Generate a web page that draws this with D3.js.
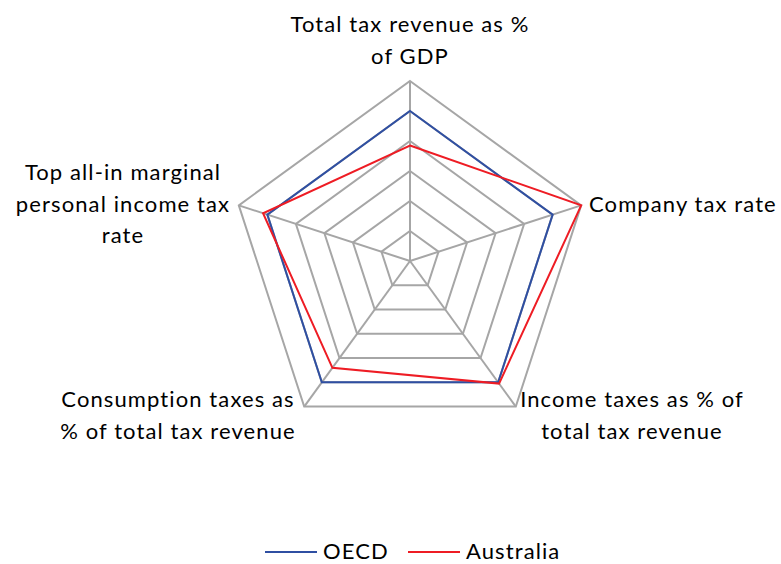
<!DOCTYPE html>
<html>
<meta charset="utf-8">
<script src="https://d3js.org/d3.v7.min.js"></script>
<style>
  body { margin: 0; background: #fff; }
  text { font-family: Lato, "Open Sans", sans-serif; fill: #000; }
</style>
<body>
<div id="vis"></div>
<script>
  // axis categories (line breaks as in the original chart)
  const categories = [
    ["Total tax revenue as %", "of GDP"],
    ["Company tax rate"],
    ["Income taxes as % of", "total tax revenue"],
    ["Consumption taxes as", "% of total tax revenue"],
    ["Top all-in marginal", "personal income tax", "rate"]
  ];
  const seriesNames = ["OECD", "Australia"];
  const oecdValues = [100, 100, 100, 100, 100];
  const australiaValues = [77, 120, 101, 88, 103];
  const ringTicks = [20, 40, 60, 80, 100, 120];
  const colors = ["#2F4FA2", "#EE1C24"];

  const width = 781, height = 564;
  const cx = 410, cy = 261, R = 180;

  const svg = d3.select("#vis")
    .append("svg")
      .attr("width", width)
      .attr("height", height);

  const r = d3.scaleLinear().domain([0, 120]).range([0, R]);
  const angle = d3.scalePoint()
    .domain(d3.range(categories.length + 1))
    .range([0, 2 * Math.PI]);

  const g = svg.append("g").attr("transform", `translate(${cx},${cy})`);

  const radial = d3.lineRadial()
    .angle((d, i) => angle(i))
    .radius(d => r(d))
    .curve(d3.curveLinearClosed);

  // grid rings
  g.selectAll(".ring")
    .data(ringTicks)
    .join("path")
      .attr("class", "ring")
      .attr("d", t => radial(categories.map(() => t)))
      .attr("fill", "none")
      .attr("stroke", "#A6A6A6")
      .attr("stroke-width", 2);

  // spokes
  g.selectAll(".spoke")
    .data(categories)
    .join("line")
      .attr("class", "spoke")
      .attr("x1", 0).attr("y1", 0)
      .attr("x2", (d, i) => r(120) * Math.sin(angle(i)))
      .attr("y2", (d, i) => -r(120) * Math.cos(angle(i)))
      .attr("stroke", "#A6A6A6")
      .attr("stroke-width", 2);

  // series
  const series = [oecdValues, australiaValues];
  g.selectAll(".series")
    .data(series)
    .join("path")
      .attr("class", "series")
      .attr("d", d => radial(d))
      .attr("fill", "none")
      .attr("stroke", (d, i) => colors[i])
      .attr("stroke-width", 2)
      .attr("stroke-linejoin", "miter");

  // axis labels
  const labelPos = [
    {x: 410, y: 32, anchor: "middle"},
    {x: 589, y: 212, anchor: "start"},
    {x: 632, y: 407, anchor: "middle"},
    {x: 178, y: 407, anchor: "middle"},
    {x: 123, y: 180, anchor: "middle"}
  ];
  const lineH = 31.5;
  categories.forEach((lines, i) => {
    const p = labelPos[i];
    const t = svg.append("text")
      .attr("text-anchor", p.anchor)
      .style("font-size", "22px")
      .style("letter-spacing", "1.1px");
    lines.forEach((ln, j) => {
      t.append("tspan")
        .attr("x", p.x)
        .attr("y", p.y + j * lineH)
        .text(ln);
    });
  });

  // legend
  const legendX = [265, 408];
  const legend = svg.append("g");
  seriesNames.forEach((name, i) => {
    legend.append("line")
      .attr("x1", legendX[i]).attr("x2", legendX[i] + 52)
      .attr("y1", 552).attr("y2", 552)
      .attr("stroke", colors[i])
      .attr("stroke-width", 2);
    legend.append("text")
      .attr("x", legendX[i] + 58)
      .attr("y", 559)
      .style("font-size", "22px")
      .style("letter-spacing", "1.1px")
      .text(name);
  });
</script>
</body>
</html>
